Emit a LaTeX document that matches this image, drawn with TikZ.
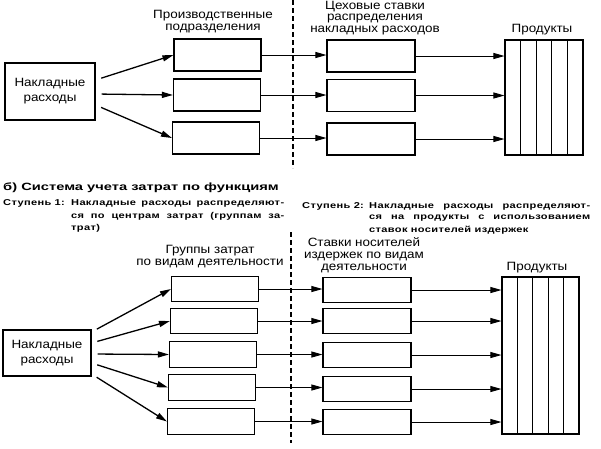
\documentclass[tikz,border=0pt]{standalone}
\usepackage{fontspec}
\setmainfont{Liberation Sans}
\newfontfamily\lblfont[FakeStretch=1.12]{Liberation Sans}
\newfontfamily\hdfont[FakeStretch=1.4]{Liberation Sans}
\newfontfamily\stfont[FakeStretch=1.3,LetterSpace=4]{Liberation Sans}
\usetikzlibrary{arrows.meta,calc}
\tikzset{
  box/.style={draw,line width=1.1pt,inner sep=0pt,minimum width=87pt},
  tbox/.style={box,minimum height=32pt},
  sbox/.style={box,minimum height=25.5pt},
  nrbox/.style={draw,line width=1.1pt,inner sep=0pt,align=center,font=\lblfont\fontsize{12}{15}\selectfont},
  prod/.style={draw,line width=1.1pt,inner sep=0pt},
  lbl/.style={align=center,inner sep=0pt,font=\lblfont\fontsize{12}{12}\selectfont},
  bigarr/.style={line width=1.3pt,-{Triangle[length=11pt,width=6pt]}},
  arr/.style={line width=0.9pt,-{Triangle[length=11pt,width=6pt]}},
  divider/.style={line width=1.4pt,dash pattern=on 5pt off 3pt},
  head/.style={anchor=west,inner sep=0pt,font=\hdfont\bfseries\fontsize{10.5}{13}\selectfont},
  steptxt/.style={anchor=west,inner sep=0pt,font=\stfont\bfseries\fontsize{8.5}{10}\selectfont},
}
\begin{document}
\begin{tikzpicture}[x=1pt,y=-1pt]
\useasboundingbox (0,0) rectangle (601,448);
% ---------- top part ----------
\node[nrbox,minimum width=90pt,minimum height=57pt] (nr1) at (50,91.5) {Накладные\\расходы};
\node[tbox] (a1) at (217.5,55) {};
\node[tbox] (a2) at (217,95) {};
\node[tbox] (a3) at (216,138) {};
\node[tbox,minimum width=88pt] (b1) at (371,56) {};
\node[tbox,minimum width=88pt] (b2) at (371,95.5) {};
\node[tbox,minimum width=88pt] (b3) at (371,139) {};
\node[prod,minimum width=78pt,minimum height=115pt] (p1) at (544,97.5) {};
\foreach \k in {1,2,3,4}
  \draw[line width=1pt] ($(p1.north west)!\k/5!(p1.north east)$) -- ($(p1.south west)!\k/5!(p1.south east)$);
\node[lbl] (la) at (213,22) {Производственные\\подразделения};
\node[lbl,font=\lblfont\fontsize{12}{11.5}\selectfont] (lb) at (375,18) {Цеховые ставки\\распределения\\накладных расходов};
\node[lbl] (lp1) at (542,30) {Продукты};
\coordinate (dt1) at (293,0);
\coordinate (db1) at (293,168);
\draw[divider] (dt1) -- (db1);
\draw[bigarr,shorten <=6pt] ([yshift=11.5pt]nr1.east) -- (a1.west);
\draw[bigarr,shorten <=6pt] ([yshift=-2.5pt]nr1.east) -- (a2.west);
\draw[bigarr,shorten <=6pt] ([yshift=-13.5pt]nr1.east) -- (a3.west);
\foreach \i in {1,2,3}{
  \draw[arr] (a\i.east) -- (a\i.east -| b\i.west);
  \draw[arr] (b\i.east) -- (b\i.east -| p1.west);
}
% ---------- bottom part ----------
\node[head] (h) at (3,188) {б) Система учета затрат по функциям};
\node[steptxt] (s1) at (3,203) {Ступень 1:};
\node[steptxt] (s1a) at (71,203) {\makebox[213pt][s]{Накладные расходы распределяют-}};
\node[steptxt] (s1b) at (71,216) {\makebox[213pt][s]{ся по центрам затрат (группам за-}};
\node[steptxt] (s1c) at (71,228) {трат)};
\node[steptxt] (s2) at (302,206) {Ступень 2:};
\node[steptxt] (s2a) at (369,206) {\makebox[221pt][s]{Накладные расходы распределяют-}};
\node[steptxt] (s2b) at (369,218) {\makebox[221pt][s]{ся на продукты с использованием}};
\node[steptxt] (s2c) at (369,230) {ставок носителей издержек};
\node[nrbox,minimum width=88pt,minimum height=46pt] (nr2) at (47,353) {Накладные\\расходы};
\node[sbox] (c1) at (215,289) {};
\node[sbox] (c2) at (214,321) {};
\node[sbox] (c3) at (213,354.5) {};
\node[sbox] (c4) at (212,387.5) {};
\node[sbox] (c5) at (211,421.5) {};
\node[sbox,minimum width=88pt] (d1) at (367,290) {};
\node[sbox,minimum width=88pt] (d2) at (367,321) {};
\node[sbox,minimum width=88pt] (d3) at (367,355) {};
\node[sbox,minimum width=88pt] (d4) at (367,389) {};
\node[sbox,minimum width=88pt] (d5) at (367,422) {};
\node[prod,minimum width=77pt,minimum height=157pt] (p2) at (540.5,355.5) {};
\foreach \k in {1,2,3,4}
  \draw[line width=1pt] ($(p2.north west)!\k/5!(p2.north east)$) -- ($(p2.south west)!\k/5!(p2.south east)$);
\node[lbl] (lc) at (210,257) {Группы затрат\\по видам деятельности};
\node[lbl] (ld) at (364,255) {Ставки носителей\\издержек по видам\\деятельности};
\node[lbl] (lp2) at (537,268) {Продукты};
\coordinate (dt2) at (291,232);
\coordinate (db2) at (291,443);
\draw[divider] (dt2) -- (db2);
\draw[bigarr,shorten <=6pt] ([yshift=21pt]nr2.east) -- (c1.west);
\draw[bigarr,shorten <=6pt] ([yshift=10pt]nr2.east) -- (c2.west);
\draw[bigarr,shorten <=6pt] ([yshift=-1pt]nr2.east) -- (c3.west);
\draw[bigarr,shorten <=6pt] ([yshift=-10pt]nr2.east) -- (c4.west);
\draw[bigarr,shorten <=6pt] ([yshift=-21pt]nr2.east) -- (c5.west);
\foreach \i in {1,...,5}{
  \draw[arr] (c\i.east) -- (c\i.east -| d\i.west);
  \draw[arr] (d\i.east) -- (d\i.east -| p2.west);
}
\end{tikzpicture}
\end{document}
